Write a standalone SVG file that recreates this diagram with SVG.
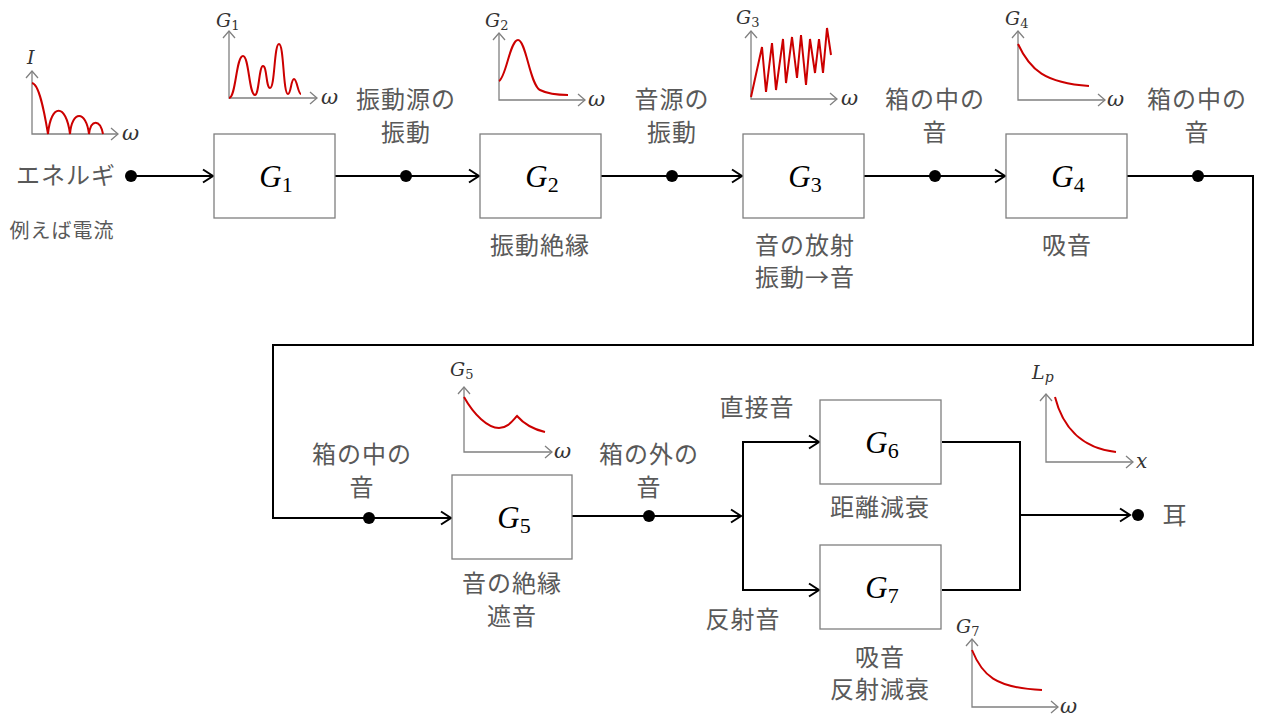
<svg xmlns="http://www.w3.org/2000/svg" width="1280" height="725" viewBox="0 0 1280 725">
<defs>
<style>
.box{fill:#ffffff;stroke:#7f7f7f;stroke-width:1.3}
.wire{fill:none;stroke:#000000;stroke-width:2}
.dot{fill:#000000}
.lbl{font-family:"Noto Sans CJK JP","Noto Sans",sans-serif;font-size:24px;fill:#595959;text-anchor:middle;letter-spacing:1px}
.small{font-size:20px}
.glbl{font-family:"Liberation Serif","DejaVu Serif",serif;font-style:italic;font-size:31px;fill:#000000;text-anchor:middle}
.sub{font-style:normal;font-size:22px}
.ax{fill:none;stroke:#808080;stroke-width:1.3}
.crv{fill:none;stroke:#cc0000;stroke-width:2}
.mt{font-family:"DejaVu Serif","Liberation Serif",serif;font-style:italic;fill:#333333}
.ms{font-style:normal}
</style>
<marker id="arr" viewBox="-12 -8 14 16" markerWidth="14" markerHeight="16" refX="0" refY="0" orient="auto" markerUnits="userSpaceOnUse">
<path d="M-10,-6.5 L0,0 L-10,6.5" fill="none" stroke="#000000" stroke-width="2"/>
</marker>
<marker id="axarr" viewBox="-9 -7 10 14" markerWidth="10" markerHeight="14" refX="0" refY="0" orient="auto-start-reverse" markerUnits="userSpaceOnUse">
<path d="M-7,-6 L0,0 L-7,6" fill="none" stroke="#808080" stroke-width="1.3"/>
</marker>
</defs>
<rect width="1280" height="725" fill="#ffffff"/>

<g id="connectors">
<line class="wire" x1="131" y1="176" x2="213" y2="176" marker-end="url(#arr)"/>
<line class="wire" x1="335" y1="176" x2="479" y2="176" marker-end="url(#arr)"/>
<line class="wire" x1="601" y1="176" x2="742" y2="176" marker-end="url(#arr)"/>
<line class="wire" x1="864" y1="176" x2="1005" y2="176" marker-end="url(#arr)"/>
<polyline class="wire" points="1127,176 1253,176 1253,345 273,345 273,518 451,518" marker-end="url(#arr)"/>
<line class="wire" x1="572" y1="516" x2="741" y2="516" marker-end="url(#arr)"/>
<polyline class="wire" points="819,442 743,442 743,590 819,590"/>
<line class="wire" x1="743" y1="442" x2="819" y2="442" marker-end="url(#arr)"/>
<line class="wire" x1="743" y1="590" x2="819" y2="590" marker-end="url(#arr)"/>
<polyline class="wire" points="942,442 1020,442 1020,590 942,590"/>
<line class="wire" x1="1020" y1="515" x2="1130" y2="515" marker-end="url(#arr)"/>
<circle class="dot" cx="131" cy="176" r="6"/>
<circle class="dot" cx="406" cy="176" r="6"/>
<circle class="dot" cx="672" cy="176" r="6"/>
<circle class="dot" cx="935" cy="176" r="6"/>
<circle class="dot" cx="1198" cy="176" r="6"/>
<circle class="dot" cx="369" cy="518" r="6"/>
<circle class="dot" cx="649" cy="516" r="6"/>
<circle class="dot" cx="1138" cy="515" r="6"/>
</g>

<g id="G1"><rect class="box" x="214" y="134" width="121" height="84"/><text class="glbl" x="276" y="187">G<tspan class="sub" dy="5">1</tspan></text></g>
<g id="G2"><rect class="box" x="480" y="134" width="121" height="84"/><text class="glbl" x="542" y="187">G<tspan class="sub" dy="5">2</tspan></text></g>
<g id="G3"><rect class="box" x="743" y="134" width="121" height="84"/><text class="glbl" x="805" y="187">G<tspan class="sub" dy="5">3</tspan></text></g>
<g id="G4"><rect class="box" x="1006" y="134" width="121" height="84"/><text class="glbl" x="1068" y="187">G<tspan class="sub" dy="5">4</tspan></text></g>
<g id="G5"><rect class="box" x="452" y="475" width="120" height="84"/><text class="glbl" x="514" y="528">G<tspan class="sub" dy="5">5</tspan></text></g>
<g id="G6"><rect class="box" x="820" y="400" width="121" height="84"/><text class="glbl" x="882" y="453">G<tspan class="sub" dy="5">6</tspan></text></g>
<g id="G7"><rect class="box" x="820" y="545" width="121" height="84"/><text class="glbl" x="882" y="598">G<tspan class="sub" dy="5">7</tspan></text></g>

<g id="labels">
<text class="lbl" x="66" y="184">エネルギ</text>
<text class="lbl small" x="62" y="238">例えば電流</text>
<text class="lbl" x="406" y="108">振動源の</text>
<text class="lbl" x="406" y="141">振動</text>
<text class="lbl" x="540" y="254">振動絶縁</text>
<text class="lbl" x="672" y="108">音源の</text>
<text class="lbl" x="672" y="141">振動</text>
<text class="lbl" x="805" y="254">音の放射</text>
<text class="lbl" x="805" y="286">振動→音</text>
<text class="lbl" x="935" y="108">箱の中の</text>
<text class="lbl" x="935" y="141">音</text>
<text class="lbl" x="1067" y="254">吸音</text>
<text class="lbl" x="1197" y="108">箱の中の</text>
<text class="lbl" x="1197" y="141">音</text>
<text class="lbl" x="362" y="463">箱の中の</text>
<text class="lbl" x="362" y="496">音</text>
<text class="lbl" x="649" y="463">箱の外の</text>
<text class="lbl" x="649" y="496">音</text>
<text class="lbl" x="512" y="592">音の絶縁</text>
<text class="lbl" x="512" y="625">遮音</text>
<text class="lbl" x="757" y="416">直接音</text>
<text class="lbl" x="743" y="628">反射音</text>
<text class="lbl" x="880" y="516">距離減衰</text>
<text class="lbl" x="880" y="666">吸音</text>
<text class="lbl" x="880" y="698">反射減衰</text>
<text class="lbl" x="1175" y="524">耳</text>
</g>

<g id="graph-I">
<polyline class="ax" points="32,71 32,134 118,134" marker-start="url(#axarr)" marker-end="url(#axarr)"/>
<path class="crv" d="M32,83 C39,84 44,110 48,134 C51,103 66,103 70,134 C72,110 86,110 89,134 C91,119 100,119 103,134"/>
<text class="mt" font-size="19" x="27" y="64">I</text>
<text class="mt" font-size="21" x="122" y="140">ω</text>
</g>
<g id="graph-G1">
<polyline class="ax" points="229,31 229,98 317,98" marker-start="url(#axarr)" marker-end="url(#axarr)"/>
<path class="crv" d="M229,98 C236,98 236,56 243,56 C249,56 249,95 255,95 C259,95 259,66 263,66 C267,66 266,88 270,88 C275,88 274,44 279,44 C284,44 283,94 288,94 C291,94 291,79 294,79 C297,79 298,94 301,94"/>
<text class="mt" font-size="19" x="216" y="27">G<tspan class="ms" font-size="13" dy="3">1</tspan></text>
<text class="mt" font-size="21" x="321" y="104">ω</text>
</g>
<g id="graph-G2">
<polyline class="ax" points="499,33 499,100 585,100" marker-start="url(#axarr)" marker-end="url(#axarr)"/>
<path class="crv" d="M499,81 C506,78 510,40 518,40 C526,40 530,85 540,90 C548,94 555,95 568,95"/>
<text class="mt" font-size="19" x="485" y="27">G<tspan class="ms" font-size="13" dy="3">2</tspan></text>
<text class="mt" font-size="21" x="588" y="106">ω</text>
</g>
<g id="graph-G3">
<polyline class="ax" points="751,31 751,99 837,99" marker-start="url(#axarr)" marker-end="url(#axarr)"/>
<polyline class="crv" points="751,97 762,47 766,92 772,43 776,90 783,39 786,83 792,37 797,78 801,35 806,85 810,39 815,73 819,39 823,73 827,28 831,55"/>
<text class="mt" font-size="19" x="736" y="24">G<tspan class="ms" font-size="13" dy="3">3</tspan></text>
<text class="mt" font-size="21" x="841" y="105">ω</text>
</g>
<g id="graph-G4">
<polyline class="ax" points="1018,31 1018,100 1105,100" marker-start="url(#axarr)" marker-end="url(#axarr)"/>
<path class="crv" d="M1018,44 C1030,70 1045,83 1089,86"/>
<text class="mt" font-size="19" x="1005" y="25">G<tspan class="ms" font-size="13" dy="3">4</tspan></text>
<text class="mt" font-size="21" x="1107" y="106">ω</text>
</g>
<g id="graph-G5">
<polyline class="ax" points="464,387 464,452 552,452" marker-start="url(#axarr)" marker-end="url(#axarr)"/>
<path class="crv" d="M464,397 C474,415 488,428 499,428 C508,428 513,420 517,416 C524,424 532,429 545,432"/>
<text class="mt" font-size="19" x="450" y="376">G<tspan class="ms" font-size="13" dy="3">5</tspan></text>
<text class="mt" font-size="21" x="554" y="458">ω</text>
</g>
<g id="graph-Lp">
<polyline class="ax" points="1046,394 1046,462 1133,462" marker-start="url(#axarr)" marker-end="url(#axarr)"/>
<path class="crv" d="M1055,397 C1062,425 1080,448 1116,452"/>
<text class="mt" font-size="19" x="1032" y="379">L<tspan font-size="14" dy="3">p</tspan></text>
<text class="mt" font-size="20" x="1136" y="468">x</text>
</g>
<g id="graph-G7">
<polyline class="ax" points="972,639 972,707 1058,707" marker-start="url(#axarr)" marker-end="url(#axarr)"/>
<path class="crv" d="M972,650 C982,675 995,688 1042,690"/>
<text class="mt" font-size="19" x="956" y="633">G<tspan class="ms" font-size="13" dy="3">7</tspan></text>
<text class="mt" font-size="21" x="1060" y="713">ω</text>
</g>
</svg>
